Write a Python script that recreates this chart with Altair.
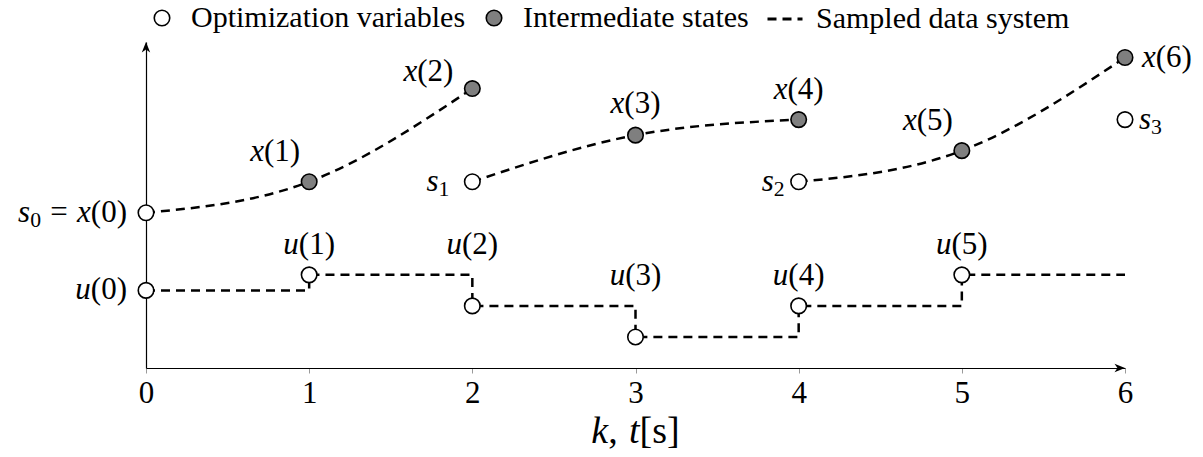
import altair as alt
import pandas as pd

FONT = "Liberation Serif"
LEGEND_SIZE = 30
MATH_SIZE = 31
TITLE_SIZE = 38

# State trajectory: shooting nodes s_i and intermediate states x(k)
state_k = [0, 1, 2, 2, 3, 4, 4, 5, 6, 6]
state_v = [5.0, 6.0, 9.0, 6.0, 7.5, 8.0, 6.0, 7.0, 10.0, 8.0]
state_seg = [1, 1, 1, 2, 2, 2, 3, 3, 3, 4]
state_kind = [
    "Optimization variables", "Intermediate states", "Intermediate states",
    "Optimization variables", "Intermediate states", "Intermediate states",
    "Optimization variables", "Intermediate states", "Intermediate states",
    "Optimization variables",
]
state_label = ["s_0 = x(0)", "x(1)", "x(2)", "s_1", "x(3)", "x(4)",
               "s_2", "x(5)", "x(6)", "s_3"]

# Piecewise constant inputs u(k)
input_k = [0, 1, 2, 3, 4, 5]
input_v = [2.5, 3.0, 2.0, 1.0, 2.0, 3.0]
input_label = ["u(0)", "u(1)", "u(2)", "u(3)", "u(4)", "u(5)"]

horizon = 6
v_top = 10.5
kinds = ["Optimization variables", "Intermediate states"]
system = "Sampled data system"
axis_title = [("k", "i"), (",", "r"), (" ", "gap"), ("t", "i"), ("[s]", "r")]

states = pd.DataFrame({"k": state_k, "v": state_v, "seg": state_seg,
                       "kind": state_kind, "name": state_label})
inputs = pd.DataFrame({"k": input_k, "v": input_v,
                       "kind": "Optimization variables", "name": input_label})
nodes = pd.concat([states, inputs], ignore_index=True)

curves = states[states["seg"] <= 3].assign(system=system)
# zero-order hold of the last input until the end of the horizon
hold = pd.DataFrame({"k": input_k + [horizon],
                     "v": input_v + [input_v[-1]],
                     "system": system})

xs = alt.Scale(domain=[0, horizon], nice=False, zero=False)
ys = alt.Scale(domain=[0, v_top], nice=False, zero=False)

x_axis = alt.Axis(
    values=list(range(horizon + 1)), format="d", grid=False,
    domainColor="black", domainWidth=1.2,
    tickColor="#9a9a9a", tickSize=5, tickWidth=1,
    labelFont=FONT, labelFontSize=MATH_SIZE, labelColor="black",
    labelPadding=5, labelFlush=False, title=None,
)
y_axis = alt.Axis(labels=False, ticks=False, grid=False, title=None,
                  domainColor="black", domainWidth=1.2)

X = alt.X("k:Q", scale=xs, axis=x_axis)
Y = alt.Y("v:Q", scale=ys, axis=y_axis)

dash = alt.StrokeDash(
    "system:N",
    scale=alt.Scale(domain=[system], range=[[9, 6]]),
    legend=alt.Legend(
        title=None, orient="none", legendX=620, legendY=-42,
        labelFont=FONT, labelFontSize=LEGEND_SIZE, labelColor="black",
        labelOffset=12, labelLimit=500, padding=0,
        symbolType="stroke", symbolSize=1225, symbolDash=[10, 5],
        symbolStrokeColor="black", symbolStrokeWidth=3,
    ),
)

state_lines = alt.Chart(curves).mark_line(
    interpolate="natural", color="black", strokeWidth=2.5
).encode(x=X, y=Y, detail="seg:N", strokeDash=dash)

input_line = alt.Chart(hold).mark_line(
    interpolate="step-after", color="black", strokeWidth=2.5
).encode(x=X, y=Y, strokeDash=dash)

points = alt.Chart(nodes).mark_point(
    filled=True, size=240, stroke="black", strokeWidth=1.6, opacity=1
).encode(
    x=X, y=Y,
    fill=alt.Fill(
        "kind:N",
        scale=alt.Scale(domain=kinds, range=["white", "#7f7f7f"]),
        legend=alt.Legend(
            title=None, orient="none", legendX=1, legendY=-39,
            direction="horizontal", gridAlign="none",
            labelFont=FONT, labelFontSize=LEGEND_SIZE, labelColor="black",
            labelOffset=14, labelLimit=500, columnPadding=13, padding=0,
            symbolType="circle", symbolSize=240, symbolOpacity=1,
            symbolStrokeColor="black", symbolStrokeWidth=1.6,
        ),
    ),
)

# --- math-style labels: italic letters, upright digits, small subscripts ---
EM_ROMAN = {"(": 0.333, ")": 0.333, "=": 0.564, " ": 0.3, "[": 0.333,
            "]": 0.333, ",": 0.25, "s": 0.389}
EM_ITALIC = {"x": 0.444, "u": 0.5, "s": 0.389, "k": 0.444, "t": 0.278}
SUB_SCALE = 0.7


def run_width(text, style, size):
    if style == "i":
        return sum(EM_ITALIC.get(c, 0.5) for c in text) * size
    scale = SUB_SCALE if style == "sub" else 1.0
    return sum(EM_ROMAN.get(c, 0.5) for c in text) * size * scale


def parse(markup):
    runs, i = [], 0
    while i < len(markup):
        c = markup[i]
        if c == "_":
            runs.append((markup[i + 1], "sub"))
            i += 2
            continue
        style = "gap" if c == " " else ("i" if c.isalpha() else "r")
        if runs and runs[-1][1] == style:
            runs[-1] = (runs[-1][0] + c, style)
        else:
            runs.append((c, style))
        i += 1
    return runs


def run_layers(base, runs, align, dx, dy, size=MATH_SIZE):
    total = sum(run_width(t, s, size) for t, s in runs)
    start = dx - {"left": 0, "center": total / 2, "right": total}[align]
    layers = []
    for text, style in runs:
        if style != "gap":
            layers.append(base.mark_text(
                text=text, font=FONT, align="left", baseline="middle",
                fontSize=size * (SUB_SCALE if style == "sub" else 1.0),
                fontStyle="italic" if style == "i" else "normal",
                dx=start,
                dy=dy + (0.24 * size if style == "sub" else 0),
                color="black",
            ))
        start += run_width(text, style, size)
    return layers


placement = {
    "s_0 = x(0)": ("right", -19, 0),
    "u(0)": ("right", -19, 0),
    "x(1)": ("center", -34, -30),
    "x(2)": ("center", -44, -17),
    "s_1": ("right", -23, 0),
    "x(3)": ("center", 0, -31),
    "x(4)": ("center", 0, -30),
    "s_2": ("right", -14, 0),
    "x(5)": ("center", -34, -30),
    "x(6)": ("left", 17, 0),
    "s_3": ("left", 14, 0),
    "u(1)": ("center", 0, -30),
    "u(2)": ("center", 0, -61),
    "u(3)": ("center", 0, -61),
    "u(4)": ("center", 0, -30),
    "u(5)": ("center", 0, -30),
}

text_layers = []
for name in nodes["name"]:
    align, dx, dy = placement[name]
    base = alt.Chart(nodes).encode(x=X, y=Y).transform_filter(
        alt.datum.name == name)
    text_layers += run_layers(base, parse(name), align, dx, dy)

# axis title k, t[s] centred below the tick labels
title_base = alt.Chart(nodes).encode(
    x=alt.datum(horizon / 2, scale=xs), y=alt.datum(0, scale=ys)
).transform_filter(alt.datum.name == "u(0)")
text_layers += run_layers(title_base, axis_title, "center", 0, 64,
                          size=TITLE_SIZE)

# arrow heads at the ends of both axes
x_arrow = alt.Chart(nodes).mark_point(
    shape="M0,0L-1,-0.4L-0.72,0L-1,0.4Z", size=440, filled=True,
    color="black", opacity=1
).encode(x=alt.datum(horizon), y=alt.datum(0)).transform_filter(
    alt.datum.name == "u(0)")
y_arrow = alt.Chart(nodes).mark_point(
    shape="M0,0L-0.4,1L0,0.72L0.4,1Z", size=440, filled=True,
    color="black", opacity=1
).encode(x=alt.datum(0), y=alt.datum(v_top)).transform_filter(
    alt.datum.name == "u(0)")

chart = alt.layer(
    state_lines, input_line, points, *text_layers, x_arrow, y_arrow
).properties(
    width=979, height=326,
    autosize=alt.AutoSizeParams(type="none"),
    padding={"left": 146, "top": 42, "right": 78, "bottom": 89},
    background="white",
).configure_view(strokeWidth=0)

chart.save("out.html", embed_options={"renderer": "svg", "actions": False})
